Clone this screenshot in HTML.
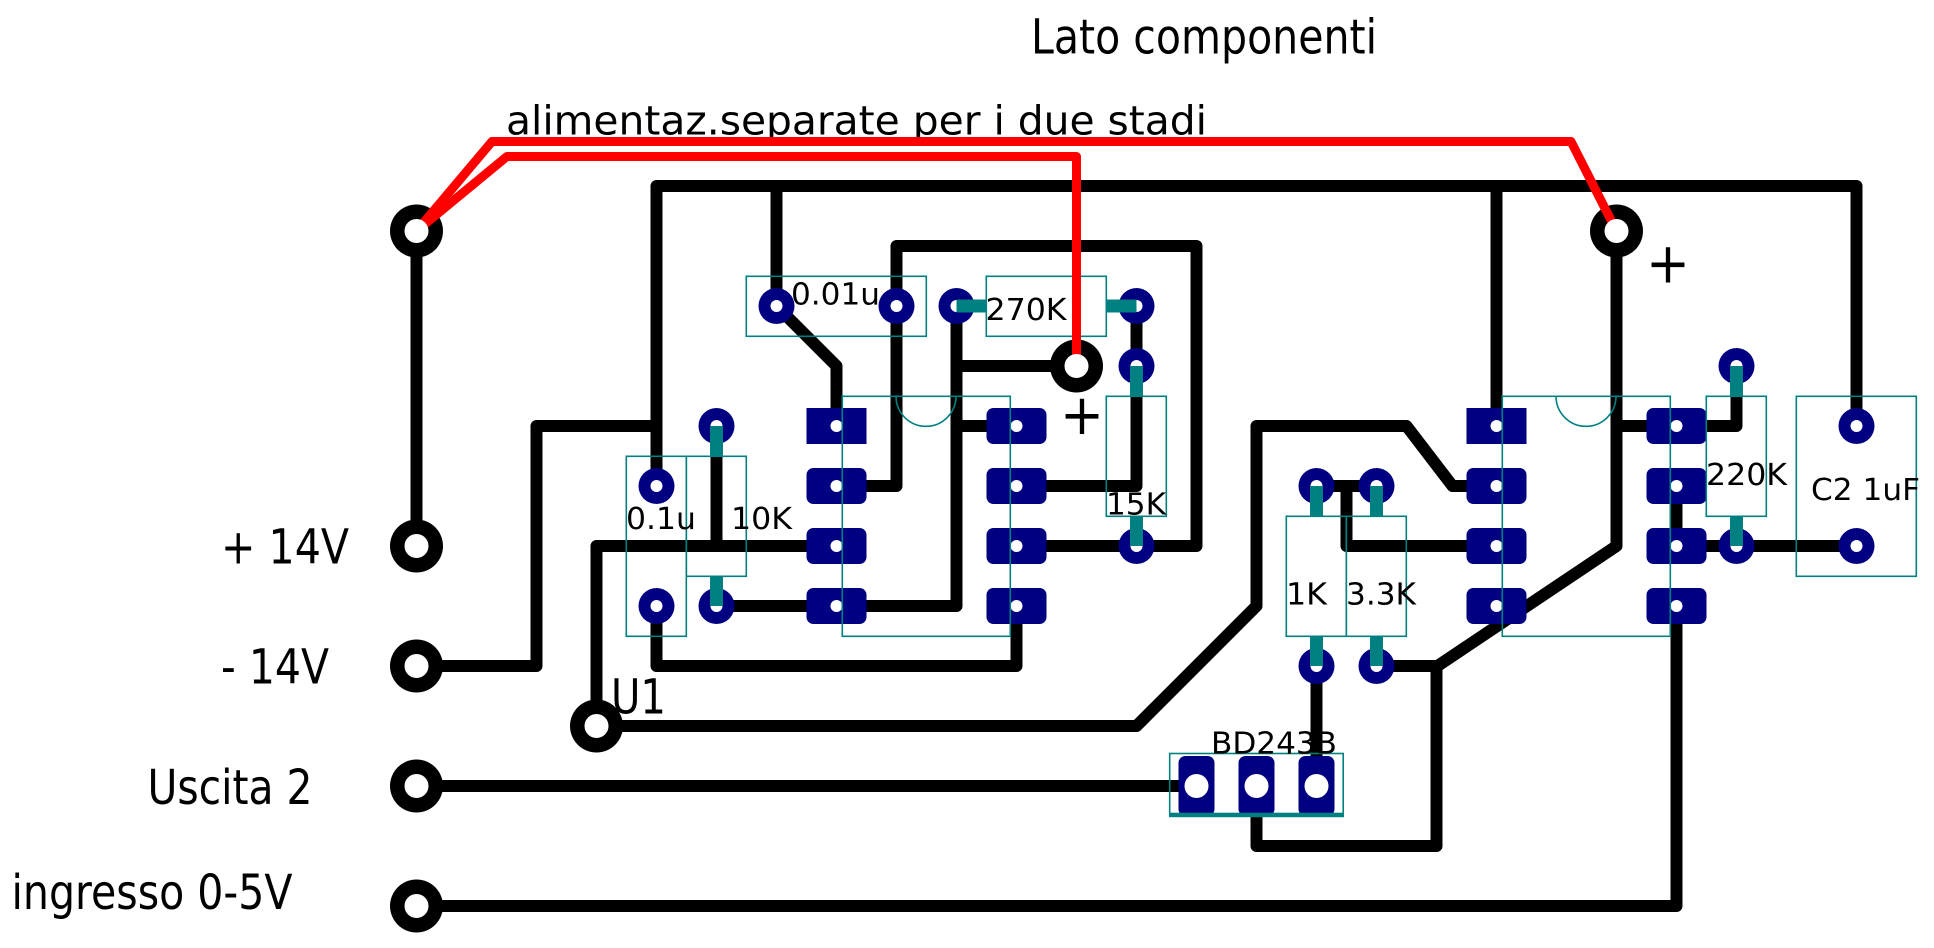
<!DOCTYPE html>
<html>
<head>
<meta charset="utf-8">
<style>
html,body{margin:0;padding:0;background:#fff;width:1934px;height:948px;overflow:hidden}
svg{display:block}
text{font-family:"DejaVu Sans","Liberation Sans",sans-serif;fill:#000}
.t{fill:none;stroke:#000;stroke-width:12;stroke-linejoin:round;stroke-linecap:round}
.r{fill:none;stroke:#f00;stroke-width:9;stroke-linejoin:round;stroke-linecap:butt}
.l{stroke:#008080;stroke-width:13;fill:none}
.b{fill:none;stroke:#008080;stroke-width:1.6}
.big{font-size:48px}
.sm{font-size:30px}
</style>
</head>
<body>
<svg width="1934" height="948" viewBox="0 0 1934 948" xmlns="http://www.w3.org/2000/svg">
<rect width="1934" height="948" fill="#fff"/>
<g transform="translate(0.5,0.3)">
<!-- traces -->
<g class="t">
<path d="M416 230.7V545.7"/>
<path d="M656 485.7V185.7H1856V425.7"/>
<path d="M776 185.7V305.7"/>
<path d="M1496 185.7V425.7"/>
<path d="M416 665.7H536V425.7H656"/>
<path d="M596 725.7V545.7H836"/>
<path d="M716 425.7V545.7"/>
<path d="M596 725.7H1136L1256 605.7V425.7H1406L1452 485.7H1496"/>
<path d="M776 305.7L836 365.7V425.7"/>
<path d="M836 485.7H896V245.7H1196V545.7H1016"/>
<path d="M716 605.7H956V305.7"/>
<path d="M956 365.7H1076"/>
<path d="M956 425.7H1016"/>
<path d="M1136 305.7V485.7H1016"/>
<path d="M656 605.7V665.7H1016V605.7"/>
<path d="M416 785.7H1196"/>
<path d="M1316 485.7H1376"/>
<path d="M1346 485.7V545.7H1496"/>
<path d="M1316 665.7V785.7"/>
<path d="M1376 665.7H1437L1616 545.7V230.7"/>
<path d="M1436 665.7V845.7H1256V785.7"/>
<path d="M1616 425.7H1736V365.7"/>
<path d="M1676 485.7V545.7H1856"/>
<path d="M1676 605.7V905.7H416"/>
</g>
<!-- black ring pads -->
<g fill="#000">
<circle cx="416" cy="230.7" r="26.5"/>
<circle cx="1616" cy="230.7" r="26.5"/>
<circle cx="1076" cy="365.7" r="26.5"/>
<circle cx="416" cy="545.7" r="26.5"/>
<circle cx="416" cy="665.7" r="26.5"/>
<circle cx="596" cy="725.7" r="26.5"/>
<circle cx="416" cy="785.7" r="26.5"/>
<circle cx="416" cy="905.7" r="26.5"/>
</g>
<!-- navy pads -->
<g fill="#000080">
<circle cx="776" cy="305.7" r="18"/>
<circle cx="896" cy="305.7" r="18"/>
<circle cx="956" cy="305.7" r="18"/>
<circle cx="1136" cy="305.7" r="18"/>
<circle cx="1136" cy="365.7" r="18"/>
<circle cx="1136" cy="545.7" r="18"/>
<circle cx="716" cy="425.7" r="18"/>
<circle cx="656" cy="485.7" r="18"/>
<circle cx="656" cy="605.7" r="18"/>
<circle cx="716" cy="605.7" r="18"/>
<circle cx="1316" cy="485.7" r="18"/>
<circle cx="1376" cy="485.7" r="18"/>
<circle cx="1316" cy="665.7" r="18"/>
<circle cx="1376" cy="665.7" r="18"/>
<circle cx="1736" cy="365.7" r="18"/>
<circle cx="1736" cy="545.7" r="18"/>
<circle cx="1856" cy="425.7" r="18"/>
<circle cx="1856" cy="545.7" r="18"/>
<rect x="806" y="407.7" width="60" height="36"/>
<rect x="806" y="467.7" width="60" height="36" rx="7"/>
<rect x="806" y="527.7" width="60" height="36" rx="7"/>
<rect x="806" y="587.7" width="60" height="36" rx="7"/>
<rect x="986" y="407.7" width="60" height="36" rx="7"/>
<rect x="986" y="467.7" width="60" height="36" rx="7"/>
<rect x="986" y="527.7" width="60" height="36" rx="7"/>
<rect x="986" y="587.7" width="60" height="36" rx="7"/>
<rect x="1466" y="407.7" width="60" height="36"/>
<rect x="1466" y="467.7" width="60" height="36" rx="7"/>
<rect x="1466" y="527.7" width="60" height="36" rx="7"/>
<rect x="1466" y="587.7" width="60" height="36" rx="7"/>
<rect x="1646" y="407.7" width="60" height="36" rx="7"/>
<rect x="1646" y="467.7" width="60" height="36" rx="7"/>
<rect x="1646" y="527.7" width="60" height="36" rx="7"/>
<rect x="1646" y="587.7" width="60" height="36" rx="7"/>
<rect x="1178" y="755.7" width="36" height="60" rx="7"/>
<rect x="1238" y="755.7" width="36" height="60" rx="7"/>
<rect x="1298" y="755.7" width="36" height="60" rx="7"/>
</g>
<!-- holes -->
<g fill="#fff">
<circle cx="776" cy="305.7" r="6"/>
<circle cx="896" cy="305.7" r="6"/>
<circle cx="956" cy="305.7" r="6"/>
<circle cx="1136" cy="305.7" r="6"/>
<circle cx="1136" cy="365.7" r="6"/>
<circle cx="1136" cy="545.7" r="6"/>
<circle cx="716" cy="425.7" r="6"/>
<circle cx="656" cy="485.7" r="6"/>
<circle cx="656" cy="605.7" r="6"/>
<circle cx="716" cy="605.7" r="6"/>
<circle cx="1316" cy="485.7" r="6"/>
<circle cx="1376" cy="485.7" r="6"/>
<circle cx="1316" cy="665.7" r="6"/>
<circle cx="1376" cy="665.7" r="6"/>
<circle cx="1736" cy="365.7" r="6"/>
<circle cx="1736" cy="545.7" r="6"/>
<circle cx="1856" cy="425.7" r="6"/>
<circle cx="1856" cy="545.7" r="6"/>
<circle cx="836" cy="425.7" r="6"/><circle cx="836" cy="485.7" r="6"/><circle cx="836" cy="545.7" r="6"/><circle cx="836" cy="605.7" r="6"/>
<circle cx="1016" cy="425.7" r="6"/><circle cx="1016" cy="485.7" r="6"/><circle cx="1016" cy="545.7" r="6"/><circle cx="1016" cy="605.7" r="6"/>
<circle cx="1496" cy="425.7" r="6"/><circle cx="1496" cy="485.7" r="6"/><circle cx="1496" cy="545.7" r="6"/><circle cx="1496" cy="605.7" r="6"/>
<circle cx="1676" cy="425.7" r="6"/><circle cx="1676" cy="485.7" r="6"/><circle cx="1676" cy="545.7" r="6"/><circle cx="1676" cy="605.7" r="6"/>
<circle cx="1196" cy="785.7" r="12"/><circle cx="1256" cy="785.7" r="12"/><circle cx="1316" cy="785.7" r="12"/>
</g>
<!-- component leads -->
<g class="l">
<path d="M956 305.7H986"/>
<path d="M1106 305.7H1136"/>
<path d="M716 425.7V456"/>
<path d="M716 576V605.7"/>
<path d="M1136 365.7V396"/>
<path d="M1136 516V545.7"/>
<path d="M1316 485.7V516"/>
<path d="M1376 485.7V516"/>
<path d="M1316 636V665.7"/>
<path d="M1376 636V665.7"/>
<path d="M1736 365.7V396"/>
<path d="M1736 516V545.7"/>
</g>
</g>
<!-- component outlines -->
<g class="b">
<rect x="746.3" y="276.3" width="180" height="60"/>
<rect x="986.3" y="276.3" width="120" height="60"/>
<rect x="1106.3" y="396.3" width="60" height="120"/>
<rect x="626.3" y="456.3" width="60" height="180"/>
<rect x="686.3" y="456.3" width="60" height="120"/>
<rect x="1286.3" y="516.3" width="60" height="120"/>
<rect x="1346.3" y="516.3" width="60" height="120"/>
<rect x="1706.3" y="396.3" width="60" height="120"/>
<rect x="1796.3" y="396.3" width="120" height="180"/>
<rect x="842.3" y="396.3" width="168" height="240"/>
<rect x="1502.3" y="396.3" width="168" height="240"/>
<path d="M896 396.3A30 30 0 0 0 956 396.3"/>
<path d="M1556 396.3A30 30 0 0 0 1616 396.3"/>
<rect x="1169.7" y="753.5" width="173.5" height="61.5"/>
</g>
<rect x="1169" y="812.7" width="175" height="4.5" fill="#008080"/>
<!-- label beneath the red wires -->
<text x="506" y="134.3" textLength="701" lengthAdjust="spacingAndGlyphs" style="font-size:40px">alimentaz.separate per i due stadi</text>
<!-- red wires -->
<path class="r" d="M416.5 231L492 141.5H1571L1616.5 231"/>
<path class="r" d="M416.5 231L507 156.5H1076.5V366"/>
<g fill="#fff" transform="translate(0.5,0.3)">
<circle cx="416" cy="230.7" r="12"/>
<circle cx="1616" cy="230.7" r="12"/>
<circle cx="1076" cy="365.7" r="12"/>
<circle cx="416" cy="545.7" r="12"/>
<circle cx="416" cy="665.7" r="12"/>
<circle cx="596" cy="725.7" r="12"/>
<circle cx="416" cy="785.7" r="12"/>
<circle cx="416" cy="905.7" r="12"/>
</g>
<!-- labels -->
<text class="big" x="1031" y="53.3" textLength="346" lengthAdjust="spacingAndGlyphs">Lato componenti</text>
<text class="sm" x="791" y="304.7" textLength="89" lengthAdjust="spacingAndGlyphs">0.01u</text>
<text class="sm" x="985.5" y="320" textLength="81" lengthAdjust="spacingAndGlyphs">270K</text>
<text class="sm" x="1106" y="514.7" textLength="60" lengthAdjust="spacingAndGlyphs">15K</text>
<text class="sm" x="626" y="529" textLength="70" lengthAdjust="spacingAndGlyphs">0.1u</text>
<text class="sm" x="731" y="529" textLength="61" lengthAdjust="spacingAndGlyphs">10K</text>
<text class="sm" x="1286" y="604.7" textLength="41" lengthAdjust="spacingAndGlyphs">1K</text>
<text class="sm" x="1346" y="604.7" textLength="70" lengthAdjust="spacingAndGlyphs">3.3K</text>
<text class="sm" x="1706" y="485" textLength="81" lengthAdjust="spacingAndGlyphs">220K</text>
<text class="sm" x="1811" y="500" textLength="109" lengthAdjust="spacingAndGlyphs">C2 1uF</text>
<text class="sm" x="1211" y="753.3" textLength="126" lengthAdjust="spacingAndGlyphs">BD243B</text>
<text class="big" x="611" y="713.3" textLength="55" lengthAdjust="spacingAndGlyphs">U1</text>
<text class="big" x="221" y="563.3" textLength="128" lengthAdjust="spacingAndGlyphs">+ 14V</text>
<text class="big" x="221" y="683.3" textLength="108" lengthAdjust="spacingAndGlyphs">- 14V</text>
<text class="big" x="147.5" y="804" textLength="165" lengthAdjust="spacingAndGlyphs">Uscita 2</text>
<text class="big" x="11.5" y="909" textLength="281" lengthAdjust="spacingAndGlyphs">ingresso 0-5V</text>
<text x="1060" y="434" textLength="44" lengthAdjust="spacingAndGlyphs" style="font-size:56px">+</text>
<text x="1646" y="282.7" textLength="44" lengthAdjust="spacingAndGlyphs" style="font-size:56px">+</text>
</svg>
</body>
</html>
